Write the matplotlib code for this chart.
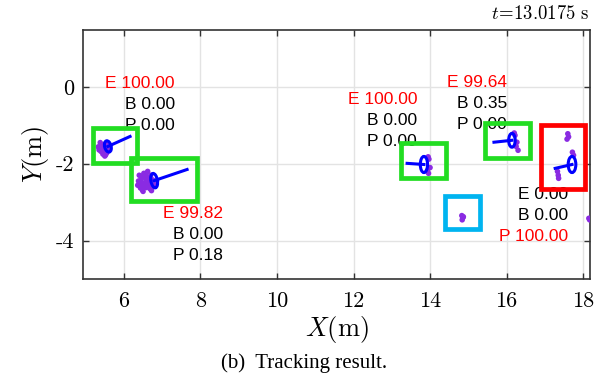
import matplotlib
matplotlib.use('Agg')
import matplotlib.pyplot as plt
from matplotlib.patches import Rectangle, Ellipse

plt.rcParams['mathtext.fontset'] = 'cm'
plt.rcParams['axes.unicode_minus'] = False

# --- data ---
x_ticks = [6, 8, 10, 12, 14, 16, 18]
y_ticks = [0, -2, -4]

# tracked objects: ellipse centre, heading end, ellipse size
track_x = [5.58, 6.79, 13.84, 16.14, 17.71]
track_y = [-1.55, -2.44, -2.02, -1.39, -2.02]
head_x = [6.16, 7.65, 13.40, 15.67, 17.27]
head_y = [-1.29, -2.15, -1.99, -1.44, -2.12]
ell_w = [0.17, 0.17, 0.19, 0.17, 0.20]
ell_h = [0.30, 0.38, 0.42, 0.36, 0.42]
ell_ang = [15, 10, 0, 0, 0]

# bounding boxes: x0, y0, x1, y1, class
box_x0 = [5.19, 6.18, 13.24, 15.44, 16.91, 14.39]
box_y0 = [-1.97, -2.96, -2.38, -1.84, -2.66, -3.69]
box_x1 = [6.34, 7.91, 14.42, 16.61, 18.06, 15.31]
box_y1 = [-1.08, -1.86, -1.47, -0.95, -0.99, -2.83]
box_cls = ['car', 'car', 'car', 'car', 'ped', 'bike']

# class probabilities (E, B, P) with label anchor (right edge, top line)
prob_E = [100.00, 99.82, 100.00, 99.64, 0.00]
prob_B = [0.00, 0.00, 0.00, 0.35, 0.00]
prob_P = [0.00, 0.18, 0.00, 0.00, 100.00]
lab_x = [7.33, 8.59, 13.66, 16.01, 17.61]
lab_y = [0.10, -3.30, -0.33, 0.12, -2.80]

# lidar points
pts_x = [5.38, 5.42, 5.36, 5.40, 5.45, 5.50, 5.55, 5.52, 5.47, 5.55, 5.60, 5.44, 5.50, 5.33, 5.58,
         5.41, 5.46, 5.35, 5.52, 5.48,
         6.40, 6.45, 6.42, 6.50, 6.55, 6.60, 6.65, 6.70, 6.75, 6.58, 6.48, 6.80, 6.68, 6.52, 6.62, 6.85, 6.38, 6.72,
         6.44, 6.47, 6.53, 6.57, 6.63, 6.67, 6.73, 6.36, 6.46, 6.56, 6.61, 6.50, 6.43,
         13.95, 13.97, 13.93, 13.96, 14.00,
         16.22, 16.27, 16.30, 16.25, 16.20,
         17.60, 17.62, 17.58, 17.72, 17.75, 17.33, 17.35, 17.36,
         14.83, 14.86, 14.84, 14.87,
         18.15, 18.17]
pts_y = [-1.45, -1.52, -1.60, -1.68, -1.75, -1.80, -1.72, -1.60, -1.50, -1.45, -1.55, -1.62, -1.68, -1.56, -1.65,
         -1.58, -1.55, -1.64, -1.77, -1.70,
         -2.30, -2.40, -2.52, -2.60, -2.35, -2.45, -2.55, -2.30, -2.42, -2.62, -2.68, -2.55, -2.65, -2.25, -2.20, -2.45, -2.45, -2.70,
         -2.47, -2.33, -2.50, -2.38, -2.36, -2.48, -2.60, -2.56, -2.58, -2.28, -2.58, -2.72, -2.63,
         -1.82, -1.88, -2.18, -2.25, -2.10,
         -1.26, -1.44, -1.65, -1.55, -1.20,
         -1.22, -1.30, -1.36, -1.70, -1.78, -2.20, -2.30, -2.38,
         -3.35, -3.40, -3.46, -3.38,
         -3.42, -3.46]

cls_color = {'car': '#22dd22', 'ped': '#ff0000', 'bike': '#00b4f0'}

fig = plt.figure(figsize=(6.09, 3.78), dpi=100)
ax = fig.add_axes([0.1363, 0.2619, 0.8325, 0.6587])
ax.set_xlim(4.93, 18.18)
ax.set_ylim(-5.0, 1.48)

ax.grid(True, color='#e3e3e3', linewidth=1.0)
ax.set_axisbelow(True)

ax.scatter(pts_x, pts_y, s=16, color='#8a2be2', edgecolors='none', zorder=3)

for i in range(len(track_x)):
    ax.plot([track_x[i], head_x[i]], [track_y[i], head_y[i]], color='#0000ff', lw=2.2, zorder=4)
    ax.add_patch(Ellipse((track_x[i], track_y[i]), ell_w[i], ell_h[i], angle=ell_ang[i],
                         fill=False, edgecolor='#0000ff', lw=2.2, zorder=4))

for i in range(len(prob_E)):
    cols = ['black', 'black', 'black']
    vals = [prob_E[i], prob_B[i], prob_P[i]]
    cols[vals.index(max(vals))] = '#ff0000'
    for j, (name, v) in enumerate(zip('EBP', vals)):
        ax.text(lab_x[i], lab_y[i] - 0.55 * j, f'{name} {v:.2f}', color=cols[j],
                ha='right', va='center', fontsize=12.5, family='Liberation Sans', zorder=5)

for i in range(len(box_x0)):
    ax.add_patch(Rectangle((box_x0[i], box_y0[i]), box_x1[i] - box_x0[i], box_y1[i] - box_y0[i],
                           fill=False, edgecolor=cls_color[box_cls[i]], lw=3.4,
                           joinstyle='miter', zorder=6))

ax.set_xticks(x_ticks)
ax.set_yticks(y_ticks)
ax.set_xticklabels([str(v) for v in x_ticks], family='cmr10', fontsize=16)
ax.set_yticklabels([str(v) for v in y_ticks], family='cmr10', fontsize=16)
ax.tick_params(direction='in', top=True, right=True, length=4, width=1, color='#333333')
ax.tick_params(axis='x', pad=9)
ax.tick_params(axis='y', pad=6)
for sp in ax.spines.values():
    sp.set_color('#333333')
    sp.set_linewidth(1.2)

ax.set_xlabel(r'$X(\mathrm{m})$', fontsize=19, labelpad=2)
ax.set_ylabel(r'$Y(\mathrm{m})$', fontsize=19, labelpad=4)

fig.text(0.967, 0.965, r'$t\!=\!13.0175\ \mathrm{s}$', ha='right', va='center', fontsize=13.5)
fig.text(0.50, 0.04, '(b)  Tracking result.', ha='center', va='center',
         fontsize=15, family='Liberation Serif')

fig.savefig('out.png', dpi=100)
